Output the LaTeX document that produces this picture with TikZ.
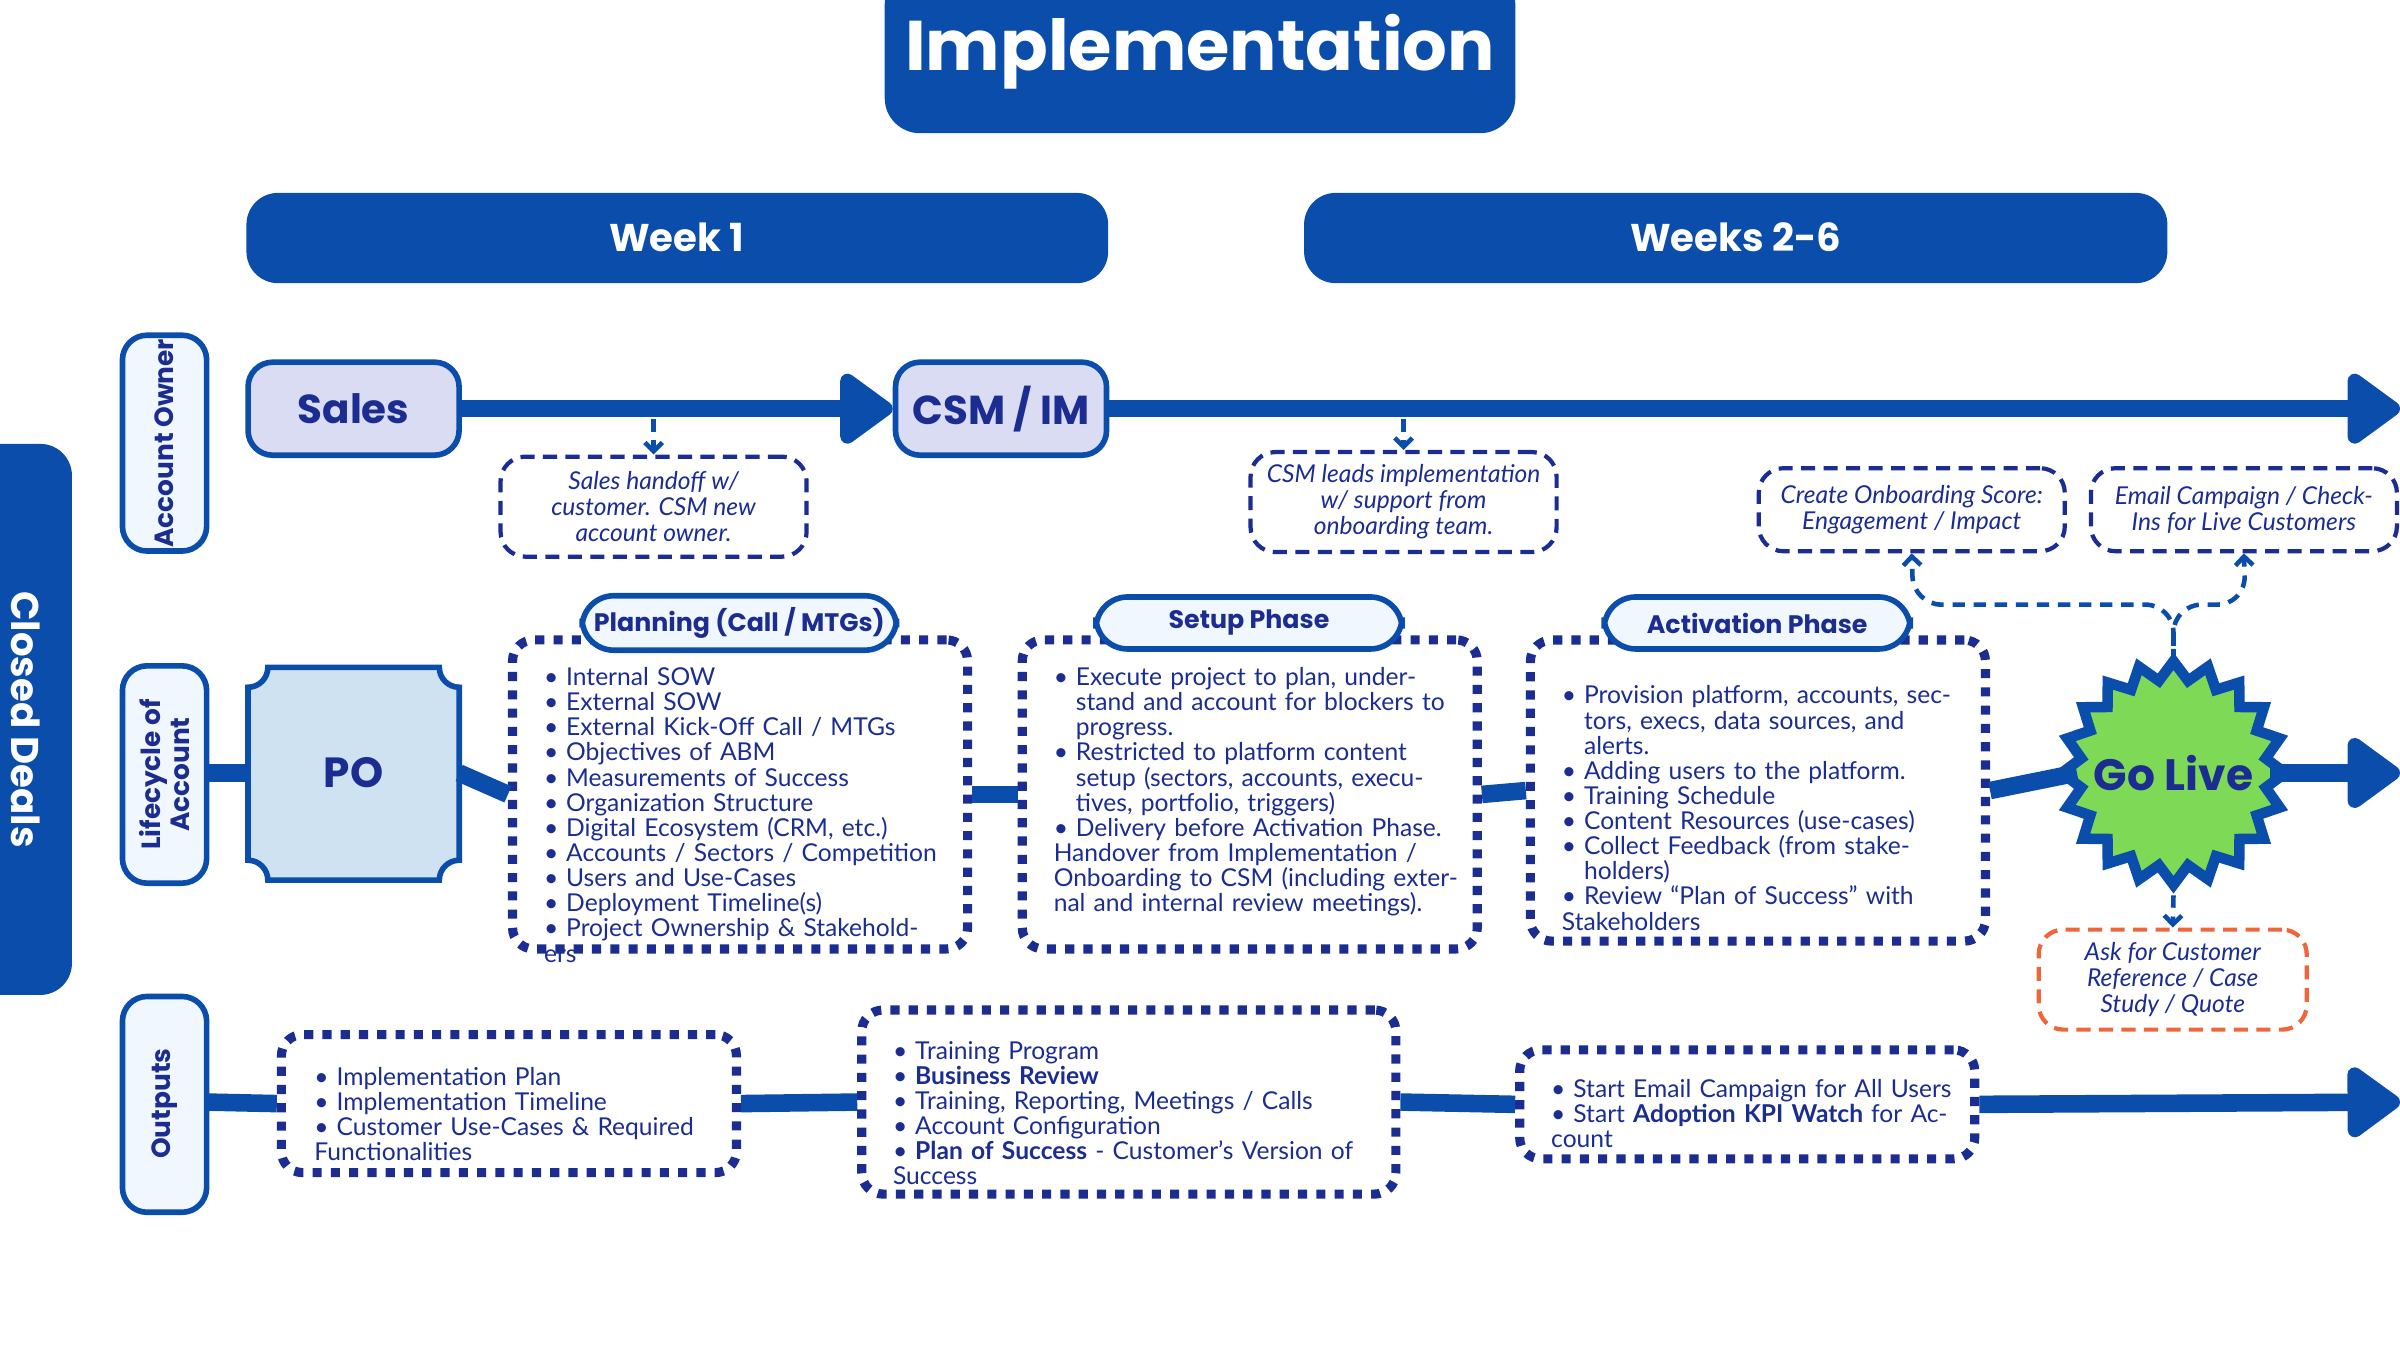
\documentclass[tikz,border=0pt]{standalone}
\usepackage{fontspec}
\setmainfont{Lato}
\newfontfamily\hd{Poppins}
\usetikzlibrary{arrows.meta}
\definecolor{navy}{HTML}{0A4DAA}
\definecolor{ink}{HTML}{1C2D91}
\definecolor{lav}{HTML}{D9DCF2}
\definecolor{pob}{HTML}{CFE2F1}
\definecolor{pale}{HTML}{F1F7FF}
\definecolor{grn}{HTML}{7ED957}
\definecolor{org}{HTML}{F0653A}
\newcommand\itm{\par\noindent\hangindent=0.9em\hangafter=1\makebox[0.9em][l]{\textbullet}}
\tikzset{
 bar/.style={fill=navy,rounded corners=9pt,text=white,font=\hd\bfseries\fontsize{11}{12}\selectfont},
 side/.style={draw=navy,line width=1.6pt,fill=pale,rounded corners=7pt,text=ink,font=\hd\bfseries\fontsize{7.5}{8}\selectfont,align=center},
 owner/.style={draw=navy,line width=1.6pt,fill=lav,rounded corners=7pt,text=ink,font=\hd\bfseries\fontsize{11.5}{12}\selectfont},
 note/.style={draw=ink,line width=1.2pt,dash pattern=on 4pt off 2.4pt,rounded corners=7pt,fill=white,text=ink,align=center,font=\itshape\fontsize{7}{7.4}\selectfont},
 dotbox/.style={draw=ink,line width=2.6pt,dash pattern=on 2.6pt off 2.6pt,rounded corners=6pt,fill=white},
 lst/.style={text=ink,align=left,font=\fontsize{7}{7.15}\selectfont,anchor=north west,inner sep=0pt},
 phase/.style={draw=navy,line width=1.6pt,fill=pale,rounded corners=9pt,text=ink,font=\hd\bfseries\fontsize{7.2}{8}\selectfont},
 main/.style={draw=navy,line width=5pt},
 tip/.style={-{Triangle[length=0.58cm,width=0.8cm,round]}},
 dsh/.style={draw=navy,line width=1.3pt,dash pattern=on 3.5pt off 2.5pt,-{Straight Barb[length=2.5pt,width=5pt]}},
}
\begin{document}
\begin{tikzpicture}[x=0.0153061cm,y=-0.0153061cm]
\useasboundingbox (0,0) rectangle (1568,882);
% title
\fill[navy,rounded corners=10pt] (578,-20) rectangle (990,87);
\node[text=white,font=\hd\bfseries\fontsize{20}{22}\selectfont] (title) at (784,34) {Implementation};
\node[bar,minimum width=563\pgflinewidth] at (442,155) {};
\fill[navy,rounded corners=9pt] (161,126) rectangle (724,185);
\node[text=white,font=\hd\bfseries\fontsize{11}{12}\selectfont] (w1) at (442,155) {Week 1};
\fill[navy,rounded corners=9pt] (852,126) rectangle (1416,185);
\node[text=white,font=\hd\bfseries\fontsize{11}{12}\selectfont] (w2) at (1134,155) {Weeks 2-6};
% closed deals tab
\fill[navy,rounded corners=9pt] (-20,290) rectangle (47,650);
\node[rotate=-90,text=white,font=\hd\bfseries\fontsize{11}{12}\selectfont] (cd) at (17,470) {Closed Deals};
% side labels
\draw[side] (80,219) rectangle (135,360);
\node[side,draw=none,fill=none,rotate=90] (ao) at (107.5,289.5) {Account Owner};
\draw[side] (80,435) rectangle (135,577);
\node[side,draw=none,fill=none,rotate=90] (lc) at (107.5,506) {Lifecycle of\\Account};
\draw[side] (80,651) rectangle (135,792);
\node[side,draw=none,fill=none,rotate=90] (op) at (107.5,721) {Outputs};
\coordinate (lcE) at (135,505);
\coordinate (opE) at (135,720);
% row 1
\node[owner,minimum width=2.11cm,minimum height=0.93cm] (sales) at (231,267) {Sales};
\node[owner,minimum width=2.11cm,minimum height=0.93cm] (csm) at (654,267) {CSM / IM};
\coordinate (end1) at (1568,267);
\draw[main,tip] (sales.east) -- (csm.west);
\draw[main,tip] (csm.east) -- (end1);
\node[note,minimum width=3.06cm,minimum height=1.0cm] (hand) at (427,331) {Sales handoff w/\\customer. CSM new\\account owner.};
\node[note,minimum width=3.06cm,minimum height=1.0cm] (lead) at (917,328) {CSM leads implementation\\w/ support from\\onboarding team.};
\node[note,minimum width=3.06cm,minimum height=0.83cm] (score) at (1249,333) {Create Onboarding Score:\\Engagement / Impact};
\node[note,minimum width=3.06cm,minimum height=0.83cm] (email) at (1466,333) {Email Campaign / Check-\\Ins for Live Customers};
\coordinate (h0) at (427,274); \coordinate (l0) at (917,274);
\draw[dsh] (h0) -- (hand.north);
\draw[dsh] (l0) -- (lead.north);
% row 2
\draw[line width=1.6pt,draw=navy,fill=pob] (175,436) -- (287,436) arc[start angle=180,end angle=90,radius=13] -- (300,562) arc[start angle=270,end angle=180,radius=13] -- (175,575) arc[start angle=360,end angle=270,radius=13] -- (162,449) arc[start angle=90,end angle=0,radius=13] -- cycle;
\node[text=ink,font=\hd\bfseries\fontsize{12}{12}\selectfont] (po) at (231,505) {PO};
\coordinate (poW) at (162,505); \coordinate (poE) at (300,505);
\node[dotbox,minimum width=4.55cm,minimum height=3.09cm] (plan) at (483.5,519) {};
\node[dotbox,minimum width=4.55cm,minimum height=3.09cm] (setup) at (816.5,519) {};
\node[dotbox,minimum width=4.55cm,minimum height=3.01cm] (act) at (1148.5,516.5) {};
% go live star
\draw[line width=3pt,draw=navy,fill=grn] plot[samples=41,domain=0:40] ({1420+ifthenelse(mod(\x,2)==0,73,61)*cos(\x*9-90)},{505+ifthenelse(mod(\x,2)==0,73,61)*sin(\x*9-90)}) -- cycle;
\node[circle,minimum size=1.85cm,text=ink,font=\hd\bfseries\fontsize{12.5}{13}\selectfont] (go) at (1420,505) {Go Live};
\coordinate (end2) at (1568,505);
\draw[main] (lcE) -- (poW);
\draw[main] (poE) -- (plan.west);
\draw[main] (plan.east) -- (setup.west);
\draw[main] (setup.east) -- (act.west);
\draw[main] (act.east) -- (go.west);
\draw[main,tip] (go.east) -- (end2);
\node[phase,minimum width=3.06cm,minimum height=0.52cm] (ph1) at (483,407) {Planning (Call / MTGs)};
\node[phase,minimum width=3.06cm,minimum height=0.52cm] (ph2) at (816,407) {Setup Phase};
\node[phase,minimum width=3.06cm,minimum height=0.52cm] (ph3) at (1148,407) {Activation Phase};
\node[lst,text width=3.95cm] (t1) at (355,431) {\itm Internal SOW\itm External SOW\itm External Kick-Off Call / MTGs\itm Objectives of ABM\itm Measurements of Success\itm Organization Structure\itm Digital Ecosystem (CRM, etc.)\itm Accounts / Sectors / Competition\itm Users and Use-Cases\itm Deployment Timeline(s)\itm Project Ownership \& Stakeholders};
\node[lst,text width=4.05cm] (t2) at (688,431) {\itm Execute project to plan, understand and account for blockers to progress.\itm Restricted to platform content setup (sectors, accounts, executives, portfolio, triggers)\itm Delivery before Activation Phase. Handover from Implementation / Onboarding to CSM (including external and internal review meetings).};
\node[lst,text width=4.0cm] (t3) at (1020,443) {\itm Provision platform, accounts, sectors, execs, data sources, and alerts.\itm Adding users to the platform.\itm Training Schedule\itm Content Resources (use-cases)\itm Collect Feedback (from stake-holders)\itm Review “Plan of Success” with Stakeholders};
% go live connectors
\node[note,draw=org,text=ink,minimum width=2.68cm,minimum height=1.0cm] (ask) at (1419.5,640) {Ask for Customer\\Reference / Case\\Study / Quote};
\draw[dsh,rounded corners=8pt] (go.north) ++(0,-10) -- (1420,395) -- (1250,395) -- (score.south);
\draw[dsh,rounded corners=8pt] (1420,422) -- (1420,395) -- (1467,395) -- (email.south);
\draw[dsh] (1420,585) -- (ask.north);
% row 3
\node[dotbox,minimum width=4.55cm,minimum height=1.38cm] (o1) at (332.5,721) {};
\node[dotbox,minimum width=5.34cm,minimum height=1.84cm] (o2) at (737.5,720) {};
\node[dotbox,minimum width=4.55cm,minimum height=1.09cm] (o3) at (1141.5,721.5) {};
\coordinate (end3) at (1568,720);
\draw[main] (opE) -- (o1.west);
\draw[main] (o1.east) -- (o2.west);
\draw[main] (o2.east) -- (o3.west);
\draw[main,tip] (o3.east) -- (end3);
\node[lst,text width=3.9cm] (u1) at (205,692) {\itm Implementation Plan\itm Implementation Timeline\itm Customer Use-Cases \& Required Functionalities};
\node[lst,text width=4.7cm] (u2) at (583,675) {\itm Training Program\itm \textbf{Business Review}\itm Training, Reporting, Meetings / Calls\itm Account Configuration\itm \textbf{Plan of Success} - Customer’s Version of Success};
\node[lst,text width=4.1cm] (u3) at (1013,700) {\itm Start Email Campaign for All Users\itm Start \textbf{Adoption KPI Watch} for Account};
\end{tikzpicture}
\end{document}
